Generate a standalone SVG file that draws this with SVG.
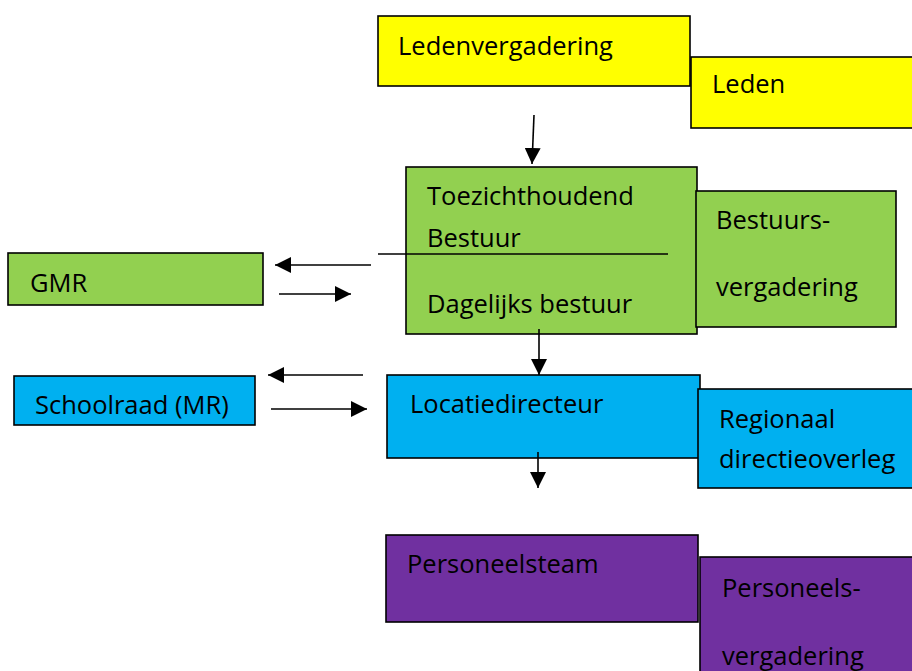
<svg xmlns="http://www.w3.org/2000/svg" width="912" height="671" viewBox="0 0 912 671">
<style>
  .box { stroke: #000; stroke-width: 1.6; }
  .y { fill: #ffff00; }
  .g { fill: #92d050; }
  .b { fill: #00b0f0; }
  .p { fill: #7030a0; }
  text { font-family: "Open Sans", "Liberation Sans", sans-serif; font-size: 25.5px; fill: #000; }
  .conn line { stroke: #000; stroke-width: 1.6; }
</style>
<defs>
  <marker id="ah" markerUnits="userSpaceOnUse" markerWidth="16" markerHeight="16" viewBox="0 0 16 16" refX="16" refY="8" orient="auto">
    <path d="M0,0 L16,8 L0,16 Z" fill="#000"/>
  </marker>
</defs>
<rect width="912" height="671" fill="#fff"/>

<g id="ledenvergadering">
  <rect class="box y" x="378" y="16" width="312" height="70"/>
  <text x="398" y="55">Ledenvergadering</text>
</g>
<g id="leden">
  <rect class="box y" x="691" y="57" width="230" height="71"/>
  <text x="712" y="93">Leden</text>
</g>
<g id="toezichthoudend-bestuur">
  <rect class="box g" x="406" y="167" width="291" height="167"/>
  <text x="427" y="205">Toezichthoudend</text>
  <text x="427" y="247">Bestuur</text>
  <text x="427" y="313">Dagelijks bestuur</text>
</g>
<g id="bestuursvergadering">
  <rect class="box g" x="696" y="191" width="200" height="136"/>
  <text x="716" y="229">Bestuurs-</text>
  <text x="716" y="296">vergadering</text>
</g>
<g id="gmr">
  <rect class="box g" x="8" y="253" width="255" height="52"/>
  <text x="30" y="292">GMR</text>
</g>
<g id="schoolraad">
  <rect class="box b" x="14" y="376" width="241" height="49"/>
  <text x="35" y="414">Schoolraad (MR)</text>
</g>
<g id="locatiedirecteur">
  <rect class="box b" x="387" y="375" width="313" height="83"/>
  <text x="410" y="413">Locatiedirecteur</text>
</g>
<g id="regionaal-directieoverleg">
  <rect class="box b" x="698" y="389" width="222" height="99"/>
  <text x="719" y="428">Regionaal</text>
  <text x="719" y="468">directieoverleg</text>
</g>
<g id="personeelsteam">
  <rect class="box p" x="386" y="535" width="312" height="87"/>
  <text x="407" y="573">Personeelsteam</text>
</g>
<g id="personeelsvergadering">
  <rect class="box p" x="700" y="557" width="220" height="120"/>
  <text x="722" y="597">Personeels-</text>
  <text x="722" y="665">vergadering</text>
</g>

<g id="connectors" class="conn">
  <line x1="534" y1="115" x2="532" y2="164" marker-end="url(#ah)"/>
  <line x1="378" y1="254" x2="668" y2="254"/>
  <line x1="371" y1="265" x2="275" y2="265" marker-end="url(#ah)"/>
  <line x1="279" y1="294" x2="351" y2="294" marker-end="url(#ah)"/>
  <line x1="539" y1="329" x2="539" y2="375" marker-end="url(#ah)"/>
  <line x1="363" y1="375" x2="268" y2="375" marker-end="url(#ah)"/>
  <line x1="271" y1="409" x2="367" y2="409" marker-end="url(#ah)"/>
  <line x1="538" y1="452" x2="538" y2="488" marker-end="url(#ah)"/>
</g>
</svg>
